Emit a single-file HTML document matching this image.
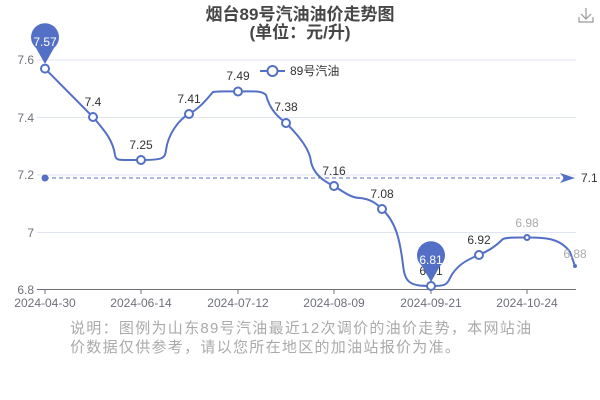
<!DOCTYPE html>
<html><head><meta charset="utf-8"><style>
html,body{margin:0;padding:0;background:#fff;width:600px;height:400px;overflow:hidden}
svg{display:block}
text{font-family:"Liberation Sans","Noto Sans CJK SC",sans-serif}
</style></head><body>
<svg width="600" height="400" viewBox="0 0 600 400" xmlns="http://www.w3.org/2000/svg">
<text x="300" y="20" text-anchor="middle" font-size="17" font-weight="bold" fill="#464646">烟台89号汽油油价走势图</text>
<text x="300" y="38" text-anchor="middle" font-size="17" font-weight="bold" fill="#464646">(单位：元/升)</text>
<g stroke="#999" stroke-width="1.2" fill="none"><path d="M586 8v11M581 14l5 5 5-5M579 17v5h14v-5"/></g>
<g stroke="#e0e6f1" stroke-width="1"><line x1="37" y1="60" x2="576" y2="60"/><line x1="37" y1="117.5" x2="576" y2="117.5"/><line x1="37" y1="175" x2="576" y2="175"/><line x1="37" y1="232.5" x2="576" y2="232.5"/></g>
<line x1="37" y1="289.5" x2="576" y2="289.5" stroke="#6e7079"/>
<g stroke="#6e7079"><line x1="45" y1="289" x2="45" y2="294"/><line x1="141" y1="289" x2="141" y2="294"/><line x1="238" y1="289" x2="238" y2="294"/><line x1="334" y1="289" x2="334" y2="294"/><line x1="431" y1="289" x2="431" y2="294"/><line x1="527" y1="289" x2="527" y2="294"/></g>
<g font-size="12" fill="#6e7079" text-anchor="end"><text x="34" y="64">7.6</text><text x="34" y="122">7.4</text><text x="34" y="179">7.2</text><text x="34" y="237">7</text><text x="34" y="294">6.8</text></g>
<g font-size="12" fill="#6e7079" text-anchor="middle"><text x="45" y="307">2024-04-30</text><text x="141" y="307">2024-06-14</text><text x="238" y="307">2024-07-12</text><text x="334" y="307">2024-08-09</text><text x="431" y="307">2024-09-21</text><text x="527" y="307">2024-10-24</text></g>
<line x1="45" y1="178" x2="566" y2="178" stroke="#5470c6" stroke-dasharray="4,3"/>
<circle cx="45" cy="178" r="3.5" fill="#5470c6"/>
<path d="M560 173l15 5-15 5 4-5z" fill="#5470c6"/>
<text x="581" y="182" font-size="12" fill="#333">7.1</text>
<path d="M45 68.6 L93 117 C104 130 113 140 115 155 C116 161 118 160 141 160 C162 160 165 159 166 150 C168 135 178 120 189 114 C200 108 206 100 213 92 C220 91 228 91.5 238 91.5 C250 91.5 262 90 266 95 C270 110 278 117 286 123 C300 137 310 150 311 162 C314 175 325 182 334 186 C345 193 352 198 360 198 C370 199 376 203 382 209 C396 222 400 240 403 265 C405 283 410 286 431 286 C445 286 447 285 450 278 C456 266 466 260 479 255 C490 250 496 246 503 239 C508 237 517 237.5 527 237.5 C545 237.5 560 238 570 252 L575 266" fill="none" stroke="#5470c6" stroke-width="2"/>
<g fill="#fff" stroke="#5470c6" stroke-width="2"><circle cx="45" cy="68.6" r="4"/><circle cx="93" cy="117" r="4"/><circle cx="141" cy="160" r="4"/><circle cx="189" cy="114" r="4"/><circle cx="238" cy="91.5" r="4"/><circle cx="286" cy="123" r="4"/><circle cx="334" cy="186" r="4"/><circle cx="382" cy="209" r="4"/><circle cx="431" cy="286" r="4"/><circle cx="479" cy="255" r="4"/><circle cx="527" cy="237.5" r="2.5"/></g>
<circle cx="575" cy="266" r="2" fill="#5470c6"/>
<g font-size="12" fill="#333" text-anchor="middle"><text x="93" y="106">7.4</text><text x="141" y="149">7.25</text><text x="189" y="103">7.41</text><text x="238" y="80">7.49</text><text x="286" y="111">7.38</text><text x="334" y="175">7.16</text><text x="382" y="198">7.08</text><text x="431" y="275">6.81</text><text x="479" y="244">6.92</text></g>
<g font-size="12" fill="#aaa" text-anchor="middle"><text x="527" y="227">6.98</text><text x="575" y="258">6.88</text></g>
<path d="M45 64 L36 48 A14 14 0 1 1 54 48 Z" fill="#5470c6"/>
<text x="45" y="46" font-size="12" fill="#fff" text-anchor="middle">7.57</text>
<path d="M431 282 L422 266 A14 14 0 1 1 440 266 Z" fill="#5470c6"/>
<text x="431" y="264" font-size="12" fill="#fff" text-anchor="middle">6.81</text>
<line x1="260" y1="71" x2="285" y2="71" stroke="#5470c6" stroke-width="2"/>
<circle cx="272.5" cy="71" r="5" fill="#fff" stroke="#5470c6" stroke-width="2"/>
<text x="290" y="75" font-size="12" fill="#333">89号汽油</text>
<g font-size="15" fill="#aaa" letter-spacing="1.3"><text x="70" y="333">说明：图例为山东89号汽油最近12次调价的油价走势，本网站油</text><text x="70" y="352">价数据仅供参考，请以您所在地区的加油站报价为准。</text></g>
</svg>
</body></html>
